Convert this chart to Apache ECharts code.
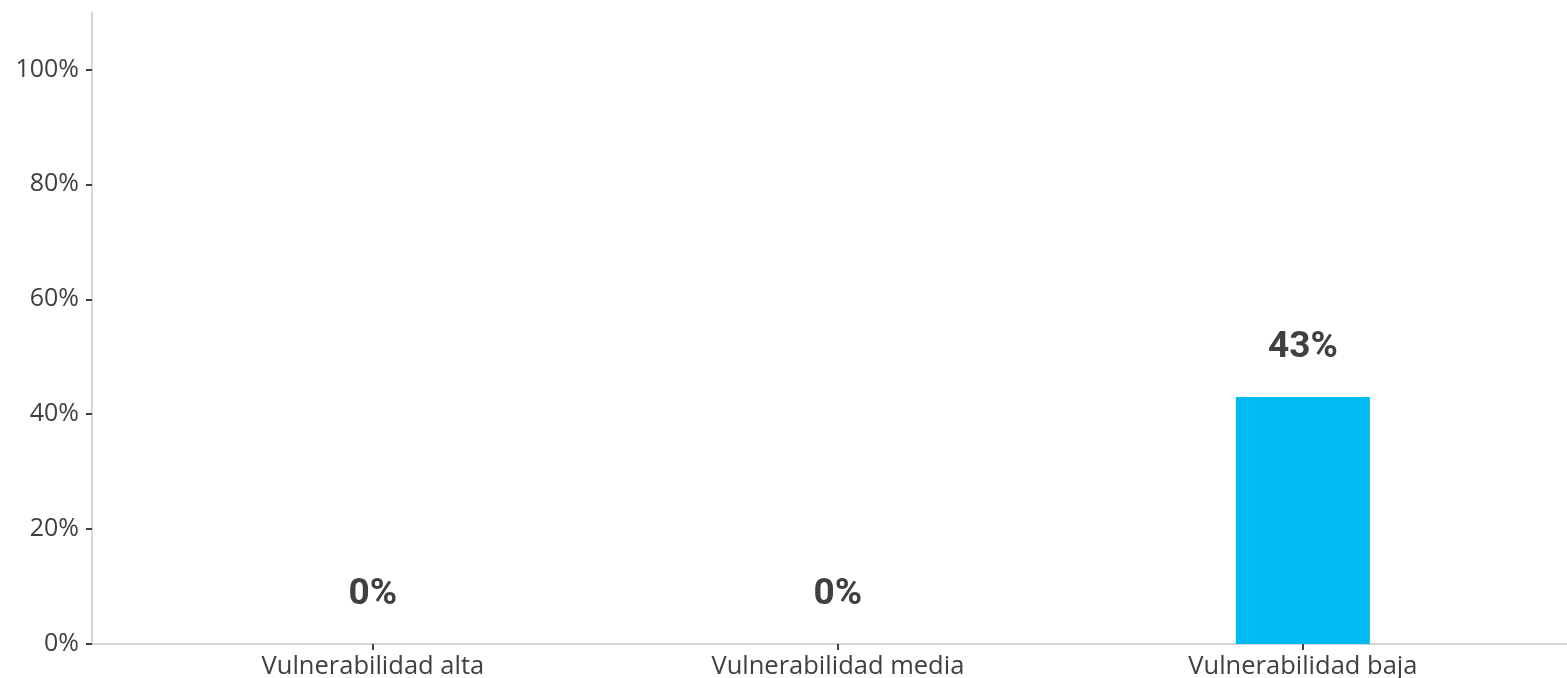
<!DOCTYPE html>
<html>
<head>
<meta charset="utf-8">
<script src="https://cdn.jsdelivr.net/npm/echarts@6/dist/echarts.min.js"></script>
<style>
html,body{margin:0;padding:0;background:#fff;}
#main{width:1567px;height:678px;}
</style>
</head>
<body>
<div id="main"></div>
<script>
// datos
var categorias = ['Vulnerabilidad alta', 'Vulnerabilidad media', 'Vulnerabilidad baja'];
var valores = [0, 0, 43];
var yTicks = [0, 20, 40, 60, 80, 100];

var posiciones = categorias.map(function (c, i) { return i; });
var serieDatos = valores.map(function (v, i) { return [posiciones[i], v]; });

var myChart = echarts.init(document.getElementById('main'));
var option = {
	backgroundColor: '#ffffff',
	animation: false,
	grid: {
		left: 92,
		right: 0,
		top: 12,
		bottom: 34,
		containLabel: false,
		outerBoundsMode: 'none'
	},
	xAxis: {
		type: 'value',
		min: -0.604,
		max: 2.568,
		splitLine: { show: false },
		axisLine: { show: true, onZero: false, lineStyle: { color: '#c8c8c8', width: 1.5 } },
		axisTick: {
			show: true,
			customValues: posiciones,
			length: 6,
			lineStyle: { color: '#404040', width: 2 }
		},
		axisLabel: {
			customValues: posiciones,
			margin: 10,
			color: '#404040',
			fontFamily: 'Open Sans',
			fontSize: 25.5,
			formatter: function (v) { return categorias[Math.round(v)]; }
		}
	},
	yAxis: {
		type: 'value',
		min: 0,
		max: 110,
		splitLine: { show: false },
		axisLine: { show: true, onZero: false, lineStyle: { color: '#c8c8c8', width: 1.5 } },
		axisTick: {
			show: true,
			customValues: yTicks,
			length: 6,
			lineStyle: { color: '#404040', width: 2 }
		},
		axisLabel: {
			customValues: yTicks,
			margin: 13,
			color: '#404040',
			fontFamily: 'Open Sans',
			fontSize: 25,
			formatter: '{value}%'
		}
	},
	series: [{
		type: 'bar',
		barWidth: 134,
		data: serieDatos,
		itemStyle: { color: '#00baf2' },
		label: {
			show: true,
			position: 'top',
			distance: 31,
			color: '#404040',
			fontFamily: 'Roboto',
			fontWeight: 'bold',
			fontSize: 37,
			formatter: function (p) { return Math.round(p.value[1]) + '%'; }
		}
	}]
};
myChart.setOption(option);
</script>
</body>
</html>
